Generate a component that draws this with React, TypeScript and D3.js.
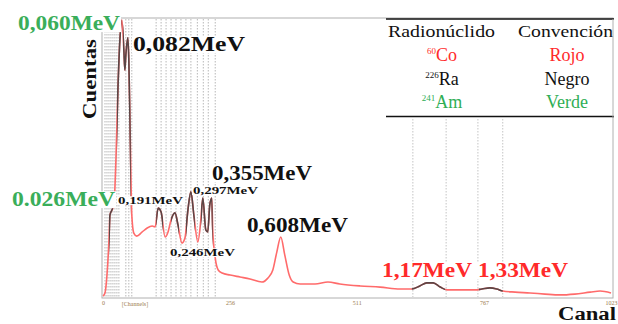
import React, { useRef, useEffect } from 'react';
import * as d3 from 'd3';

// spectrum: [channel, counts]
const spectrum: [number, number][] = [
  [0, 7], [4, 18], [8, 82], [12, 207], [14, 296], [18, 314], [22, 332], [26, 493],
  [30, 743], [34, 921], [38, 993], [42, 886], [44, 814], [46, 868], [50, 929],
  [52, 850], [54, 671], [56, 457], [58, 296], [62, 232], [68, 221], [79, 236],
  [89, 250], [99, 257], [105, 254], [111, 321], [117, 307], [125, 218], [131, 236],
  [137, 279], [145, 304], [151, 261], [159, 196], [165, 214], [171, 314], [177, 379],
  [183, 296], [191, 200], [197, 279], [201, 357], [207, 243], [211, 236], [215, 332],
  [219, 357], [221, 243], [226, 143], [232, 100], [240, 89], [256, 82], [276, 75],
  [296, 68], [320, 57], [332, 71], [342, 100], [350, 164], [358, 218], [366, 154],
  [375, 82], [383, 57], [397, 50], [427, 50], [453, 57], [477, 50], [518, 43],
  [558, 39], [598, 32], [622, 32], [638, 43], [652, 54], [665, 54], [679, 39],
  [693, 29], [719, 29], [749, 29], [763, 32], [779, 36], [793, 32], [805, 25],
  [830, 21], [860, 18], [890, 14], [920, 11], [950, 14], [981, 21], [1001, 25], [1023, 18],
];

// channel ranges drawn in black (226Ra peaks)
const darkRanges: [number, number][] = [
  [12, 20], [28, 37], [40, 56], [107, 121], [137, 153], [167, 185], [197, 221], [622, 689], [757, 805],
];

// dotted ROI markers (channels)
const roiFull = [4, 8, 12, 16, 20, 24, 28, 32, 46, 52, 58, 107, 117, 127, 137, 147, 157, 167, 177, 190, 202, 212, 226];
const roiLow = [624, 691, 755, 805];

const tickValues = [0, 256, 511, 767, 1023];

const peakLabels = [
  { text: '0,060MeV', x: 18, y: 30, size: 21, len: 102, color: '#3aae5a' },
  { text: '0,082MeV', x: 133, y: 51, size: 21, len: 112, color: '#111' },
  { text: '0.026MeV', x: 12, y: 206, size: 21, len: 103, color: '#3aae5a' },
  { text: '0,191MeV', x: 118, y: 204, size: 11, len: 65, color: '#111' },
  { text: '0,297MeV', x: 193, y: 194, size: 11, len: 65, color: '#111' },
  { text: '0,355MeV', x: 212, y: 180, size: 20, len: 100, color: '#111' },
  { text: '0,246MeV', x: 170, y: 256, size: 11, len: 65, color: '#111' },
  { text: '0,608MeV', x: 247, y: 232, size: 21, len: 101, color: '#111' },
  { text: '1,17MeV', x: 382, y: 277, size: 21, len: 90, color: '#ff2a2a' },
  { text: '1,33MeV', x: 478, y: 277, size: 21, len: 90, color: '#ff2a2a' },
];

const nuclideMass = ['60', '226', '241'];
const nuclideSym = ['Co', 'Ra', 'Am'];
const convention = ['Rojo', 'Negro', 'Verde'];
const rowColors = ['#ff2a2a', '#111', '#2fae55'];

const W = 618;
const H = 324;
const serif = 'Liberation Serif, serif';

const App = () => {
  const axisRef = useRef<SVGGElement>(null);

  const x = d3.scaleLinear().domain([0, 1023]).range([103, 611]);
  const y = d3.scaleLinear().domain([0, 1000]).range([298, 18]);

  const line = d3.line<[number, number]>()
    .x(d => x(d[0]))
    .y(d => y(d[1]))
    .curve(d3.curveMonotoneX);

  useEffect(() => {
    const g = d3.select(axisRef.current);
    g.selectAll('*').remove();
    g.call(d3.axisBottom(x).tickValues(tickValues).tickSize(0).tickPadding(3).tickFormat(d3.format('d')) as any);
    g.select('.domain').remove();
    g.selectAll('text')
      .attr('font-size', 6)
      .attr('font-family', serif)
      .attr('fill', '#9a7a4a');
  }, []);

  const path = line(spectrum) || '';

  return (
    <svg width={W} height={H} style={{ position: 'absolute', left: 0, top: 0, background: '#fff' }}>
      <defs>
        <clipPath id="dark">
          {darkRanges.map((r, i) => (
            <rect key={i} x={x(r[0])} y={0} width={x(r[1]) - x(r[0])} height={H} />
          ))}
        </clipPath>
      </defs>

      {/* dotted ROI markers */}
      {roiFull.map((c, i) => (
        <line key={'a' + i} x1={x(c)} x2={x(c)} y1={19} y2={297}
          stroke="#b8b8b8" strokeWidth={1} strokeDasharray="1.5,1.5" />
      ))}
      {roiLow.map((c, i) => (
        <line key={'b' + i} x1={x(c)} x2={x(c)} y1={119} y2={297}
          stroke="#c4c4c4" strokeWidth={1} strokeDasharray="1.5,1.5" />
      ))}

      {/* frame */}
      <rect x={102} y={18} width={511} height={280} fill="none" stroke="#b0b0b0" strokeWidth={1} />

      {/* spectrum */}
      <path d={path} fill="none" stroke="#ff6b6b" strokeWidth={1.6} />
      <path d={path} fill="none" stroke="#5a4646" strokeWidth={1.6} clipPath="url(#dark)" />

      <g ref={axisRef} transform="translate(0,298)" />
      <text x={135} y={306} fontSize={6} fontFamily={serif} fill="#9a7a4a" textAnchor="middle">[Channels]</text>

      {/* axis titles */}
      <text transform="translate(96,79) rotate(-90)" textAnchor="middle" fontSize={19}
        fontWeight="bold" fontFamily={serif} fill="#111" textLength={80} lengthAdjust="spacingAndGlyphs">Cuentas</text>
      <text x={558} y={320} fontSize={18} fontWeight="bold" fontFamily={serif} fill="#111"
        textLength={58} lengthAdjust="spacingAndGlyphs">Canal</text>

      {/* peak labels */}
      {peakLabels.map((l, i) => (
        <g key={i}>
          <rect x={l.x - 1} y={l.y - l.size * 0.7} width={l.len + 2} height={l.size * 0.8} fill="#fff" />
          <text x={l.x} y={l.y} fontSize={l.size} fontWeight="bold" fontFamily={serif} fill={l.color}
            textLength={l.len} lengthAdjust="spacingAndGlyphs">{l.text}</text>
        </g>
      ))}

      {/* legend table */}
      <rect x={386} y={19} width={228} height={98} fill="#fff" />
      <line x1={386} x2={614} y1={19} y2={19} stroke="#111" strokeWidth={1.6} />
      <line x1={386} x2={614} y1={116.5} y2={116.5} stroke="#111" strokeWidth={1.6} />
      <line x1={613} x2={613} y1={19} y2={117} stroke="#b0b0b0" strokeWidth={1} />
      <text x={388} y={37} fontSize={17} fontFamily={serif} fill="#111" textLength={107} lengthAdjust="spacingAndGlyphs">Radionúclido</text>
      <text x={518} y={37} fontSize={17} fontFamily={serif} fill="#111" textLength={95} lengthAdjust="spacingAndGlyphs">Convención</text>
      {nuclideSym.map((s, i) => (
        <g key={i} fill={rowColors[i]} fontFamily={serif}>
          <text x={442} y={61 + i * 23.5} textAnchor="middle" fontSize={18}>
            <tspan fontSize={9} dy={-7}>{nuclideMass[i]}</tspan>
            <tspan dy={7}>{s}</tspan>
          </text>
          <text x={567} y={61 + i * 23.5} textAnchor="middle" fontSize={18}>{convention[i]}</text>
        </g>
      ))}
    </svg>
  );
};

export default App;
